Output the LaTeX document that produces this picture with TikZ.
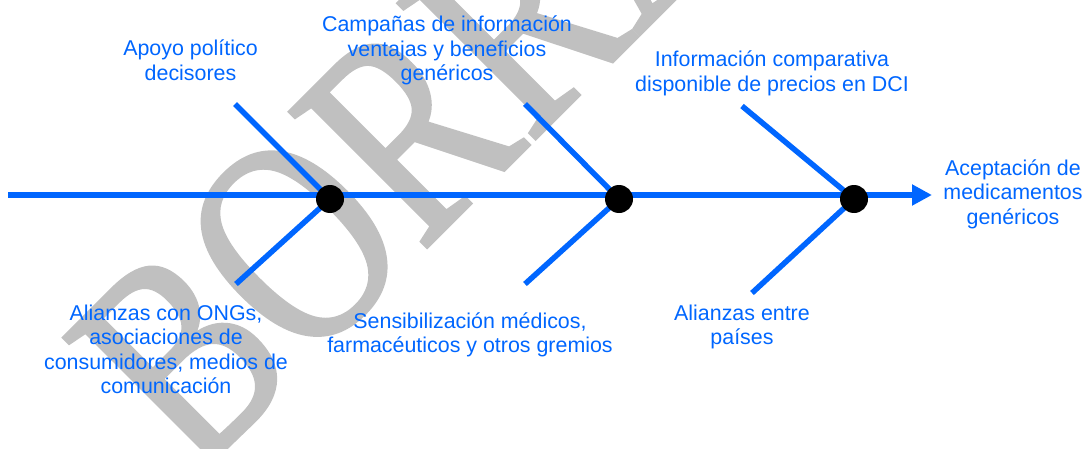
\documentclass[tikz,border=0pt]{standalone}
\usepackage{fontspec}
\setmainfont{Liberation Sans}
\newfontfamily\wmfont[FakeBold=1.2]{Liberation Serif}
\usetikzlibrary{arrows.meta}
\definecolor{fishblue}{RGB}{0,102,255}
\definecolor{wmgray}{RGB}{192,192,192}
\newcommand{\lines}[1]{\begin{tabular}[t]{@{}c@{}}#1\end{tabular}}
\begin{document}
\begin{tikzpicture}[x=1pt,y=1pt,
  bone/.style={draw=fishblue, line width=5.5pt},
  joint/.style={circle, fill=black, inner sep=0pt, minimum size=28pt},
  lbl/.style={text=fishblue, inner sep=0pt, anchor=base, font=\fontsize{21.4}{24.6}\selectfont},
  wmark/.style={text=wmgray, inner sep=0pt, anchor=base west, rotate=45, font=\wmfont\fontsize{230}{230}\selectfont}
]
\useasboundingbox (0,0) rectangle (1086,448);
\begin{scope}
\clip (0,0) rectangle (1086,448);
\node[wmark] (wm) at (195,-31) {\scalebox{1}[1.28]{BORRADOR}};
\end{scope}

% spine
\coordinate (start) at (8,253);
\coordinate (head) at (932,253);
\coordinate (c1) at (330,249);
\coordinate (c2) at (619,249);
\coordinate (c3) at (854,249);
\coordinate (u1) at (235,344);
\coordinate (l1) at (236,164);
\coordinate (u2) at (525,344);
\coordinate (l2) at (525,164);
\coordinate (u3) at (742,342);
\coordinate (l3) at (752,155);

\draw[bone, -{Triangle[length=20pt,width=20pt]}] (start) -- (head);
\draw[bone] (u1) -- (c1);
\draw[bone] (l1) -- (c1);
\draw[bone] (u2) -- (c2);
\draw[bone] (l2) -- (c2);
\draw[bone] (u3) -- (c3);
\draw[bone] (l3) -- (c3);

\node[joint] (d1) at (c1) {};
\node[joint] (d2) at (c2) {};
\node[joint] (d3) at (c3) {};

\node[lbl] (t1) at (190.5,392) {\lines{Apoyo político\\decisores}};
\node[lbl] (t2) at (447,416.5) {\lines{Campañas de información\\ventajas y beneficios\\genéricos}};
\node[lbl] (t3) at (772,381) {\lines{Información comparativa\\disponible de precios en DCI}};
\node[lbl] (t4) at (1013,273) {\lines{Aceptación de\\medicamentos\\genéricos}};
\node[lbl] (t5) at (166,128) {\lines{Alianzas con ONGs,\\asociaciones de\\consumidores, medios de\\comunicación}};
\node[lbl] (t6) at (470,120) {\lines{Sensibilización médicos,\\farmacéuticos y otros gremios}};
\node[lbl] (t7) at (742,128) {\lines{Alianzas entre\\países}};
\end{tikzpicture}
\end{document}
